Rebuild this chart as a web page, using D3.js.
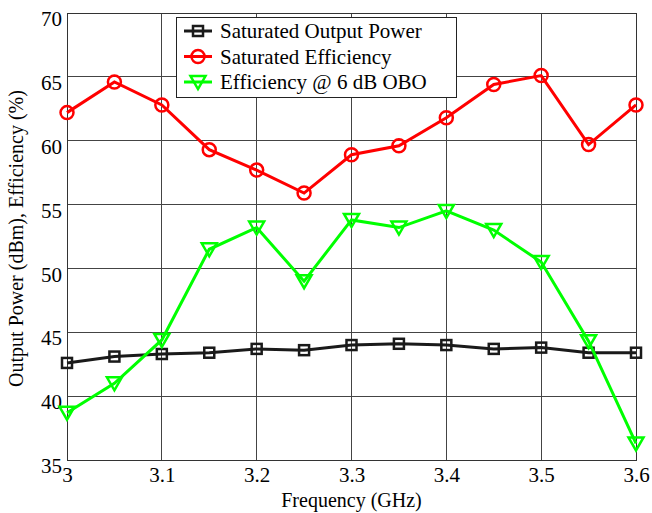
<!DOCTYPE html>
<html><head><meta charset="utf-8">
<script src="https://cdn.jsdelivr.net/npm/d3@7"></script>
</head><body style="margin:0">
<svg id="c" width="652" height="513"></svg>
<script>
const freqs = [3.0,3.05,3.1,3.15,3.2,3.25,3.3,3.35,3.4,3.45,3.5,3.55,3.6];
const satPower = [42.6,43.1,43.3,43.4,43.7,43.6,44.0,44.1,44.0,43.7,43.8,43.4,43.4];
const satEff = [62.2,64.6,62.8,59.3,57.7,55.9,58.9,59.6,61.8,64.4,65.1,59.7,62.8];
const obo6Eff = [38.7,41.0,44.4,51.5,53.2,49.0,53.8,53.2,54.5,53.0,50.5,44.3,36.3];
const xTicks = [3,3.1,3.2,3.3,3.4,3.5,3.6];
const yTicks = [35,40,45,50,55,60,65,70];
const seriesNames = ["Saturated Output Power","Saturated Efficiency","Efficiency @ 6 dB OBO"];

const FF = "Times New Roman";
const svg = d3.select("#c");
const L=67,R=636,T=13,B=460;
const x = d3.scaleLinear().domain([3,3.6]).range([L,R]);
const y = d3.scaleLinear().domain([35,70]).range([B,T]);

svg.append("g").selectAll("line").data(xTicks).join("line")
  .attr("x1",d=>x(d)).attr("x2",d=>x(d)).attr("y1",T).attr("y2",B)
  .attr("stroke","#444").attr("stroke-width",1).attr("shape-rendering","crispEdges");
svg.append("g").selectAll("line").data(yTicks).join("line")
  .attr("y1",d=>y(d)).attr("y2",d=>y(d)).attr("x1",L).attr("x2",R)
  .attr("stroke","#444").attr("stroke-width",1).attr("shape-rendering","crispEdges");
svg.append("rect").attr("x",L).attr("y",T).attr("width",R-L).attr("height",B-T)
  .attr("fill","none").attr("stroke","#333").attr("stroke-width",1).attr("shape-rendering","crispEdges");

function styleText(sel, size){
  sel.attr("font-family",FF).style("font-family",FF).style("font-size",size+"px").attr("fill","#000");
}
const xAxis = d3.axisBottom(x).tickValues(xTicks).tickFormat(d=>String(d)).tickSize(0).tickPadding(7);
const gx = svg.append("g").attr("transform",`translate(0,${B})`).call(xAxis)
  .attr("font-family",FF).attr("font-size",null);
gx.select(".domain").remove();
styleText(gx.selectAll("text"),21);
const yAxis = d3.axisLeft(y).tickValues(yTicks).tickSize(0).tickPadding(5);
const gy = svg.append("g").attr("transform",`translate(${L},0)`).call(yAxis)
  .attr("font-family",FF).attr("font-size",null);
gy.select(".domain").remove();
styleText(gy.selectAll("text"),21);
gy.selectAll("text").attr("dy","0.6em");

styleText(svg.append("text").attr("x",(L+R)/2).attr("y",507).attr("text-anchor","middle")
  .text("Frequency (GHz)"),20);
styleText(svg.append("text").attr("transform",`translate(23,${(T+B)/2+2}) rotate(-90)`).attr("text-anchor","middle")
  .text("Output Power (dBm), Efficiency (%)"),20);

const series = [
  {name:seriesNames[0], vals:satPower, color:"#1a1a1a", marker:"square"},
  {name:seriesNames[1], vals:satEff, color:"#ff0000", marker:"circle"},
  {name:seriesNames[2], vals:obo6Eff, color:"#00ff00", marker:"tri"}
];
function drawMarker(g, type, cx, cy, color){
  if(type==="square") g.append("rect").attr("x",cx-5).attr("y",cy-5).attr("width",10).attr("height",10)
      .attr("fill","none").attr("stroke",color).attr("stroke-width",2.5);
  else if(type==="circle") g.append("circle").attr("cx",cx).attr("cy",cy).attr("r",6.5)
      .attr("fill","none").attr("stroke",color).attr("stroke-width",2.5);
  else g.append("path").attr("d",`M${cx-7.5},${cy-6}L${cx+7.5},${cy-6}L${cx},${cy+7}Z`)
      .attr("fill","none").attr("stroke",color).attr("stroke-width",2.5).attr("stroke-linejoin","miter");
}
const line = d3.line().x((d,i)=>x(freqs[i])).y(d=>y(d));
series.forEach(s=>{
  svg.append("path").datum(s.vals).attr("d",line).attr("fill","none").attr("stroke",s.color).attr("stroke-width",3);
  const g = svg.append("g");
  s.vals.forEach((v,i)=>drawMarker(g,s.marker,x(freqs[i]),y(v),s.color));
});

const lg = svg.append("g");
lg.append("rect").attr("x",176).attr("y",17).attr("width",280).attr("height",80)
  .attr("fill","#fff").attr("stroke","#222").attr("stroke-width",1).attr("shape-rendering","crispEdges");
series.forEach((s,i)=>{
  const cy = 31 + i*25.5;
  lg.append("line").attr("x1",184).attr("x2",212).attr("y1",cy).attr("y2",cy).attr("stroke",s.color).attr("stroke-width",3);
  drawMarker(lg,s.marker,198,cy,s.color);
  styleText(lg.append("text").attr("x",220).attr("y",cy+7).text(s.name),21);
});
</script>
</body></html>
